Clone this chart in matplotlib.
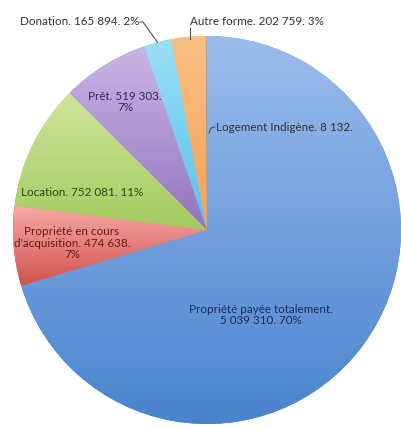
import numpy as np
import matplotlib.pyplot as plt

# data: logement types (count of households)
labels = ["Propriété payée totalement", "Propriété en cours d'acquisition",
          "Location", "Prêt", "Donation", "Autre forme", "Logement Indigène"]
values = [5039310, 474638, 752081, 519303, 165894, 202759, 8132]
label_texts = ["Propriété payée totalement.\n5 039 310. 70%",
               "Propriété en cours\nd'acquisition. 474 638.\n7%",
               "Location. 752 081. 11%",
               "Prêt. 519 303.\n7%",
               "Donation. 165 894. 2%",
               "Autre forme. 202 759. 3%",
               "Logement Indigène. 8 132."]

# gradient colours per slice (top, bottom)
grad = [((155, 188, 236), (74, 132, 206)),
        ((246, 168, 166), (210, 82, 76)),
        ((208, 230, 155), (163, 203, 95)),
        ((202, 182, 228), (148, 115, 193)),
        ((155, 222, 246), (88, 194, 234)),
        ((252, 192, 132), (245, 160, 86)),
        ((170, 170, 170), (140, 140, 140))]
text_colors = ["#1a2c58", "#6b1a1a", "#2b4514", "#3a2656", "#333333", "#333333", "#333333"]

W, H = 402, 428
cx, cy, R = 207, 230, 194

def px(x, y):
    return x, H - y

plt.rcParams['font.family'] = ['Lato', 'DejaVu Sans']
fig = plt.figure(figsize=(W / 100, H / 100), dpi=100)
ax = fig.add_axes([0, 0, 1, 1])

wedges, _ = ax.pie(values, center=px(cx, cy), radius=R, startangle=90,
                   counterclock=False, wedgeprops=dict(linewidth=0))
ax.set_xlim(0, W)
ax.set_ylim(0, H)
ax.set_aspect('equal')
ax.axis('off')

for w, (c0, c1) in zip(wedges, grad):
    w.set_facecolor(np.array(c1) / 255)
    ext = w.get_path().get_extents()
    t = np.linspace(0, 1, 64)[:, None]
    img = (np.array(c0)[None, :] * (1 - t) + np.array(c1)[None, :] * t) / 255
    im = ax.imshow(img[:, None, :], extent=(ext.x0, ext.x1, ext.y0, ext.y1),
                   origin='upper', aspect='auto', interpolation='bilinear', zorder=2)
    im.set_clip_path(w)

fs = 8.4
# inside labels
ax.text(*px(261, 315), label_texts[0], ha='center', va='center', fontsize=fs,
        color=text_colors[0], zorder=5, linespacing=1.1)
ax.text(*px(72, 243), label_texts[1], ha='center', va='center', fontsize=fs,
        color=text_colors[1], zorder=5, linespacing=1.1)
ax.text(*px(82, 192), label_texts[2], ha='center', va='center', fontsize=fs,
        color=text_colors[2], zorder=5)
ax.text(*px(125, 102), label_texts[3], ha='center', va='center', fontsize=fs,
        color=text_colors[3], zorder=5, linespacing=1.1)

# outside labels with leader lines
ax.text(*px(139, 21), label_texts[4], ha='right', va='center', fontsize=fs,
        color=text_colors[4], zorder=5)
ax.text(*px(190, 21), label_texts[5], ha='left', va='center', fontsize=fs,
        color=text_colors[5], zorder=5)
ax.text(*px(216, 127), label_texts[6], ha='left', va='center', fontsize=fs,
        color=text_colors[6], zorder=5)

angles = np.cumsum([0] + values) / sum(values) * 360
mids = 90 - (angles[:-1] + angles[1:]) / 2
def edge(i, f=1.0):
    a = np.deg2rad(mids[i])
    return cx + R * f * np.cos(a), cy - R * f * np.sin(a)

ex, ey = edge(4)
ax.plot(*zip(px(140, 22), px(143, 22), px(ex, ey)), color='#555555', lw=0.8, zorder=6)
ex, ey = edge(5)
ax.plot(*zip(px(190, 28), px(190, ey + 2)), color='#555555', lw=0.8, zorder=6)
ax.plot(*zip(px(209, 133), px(211, 128), px(215, 127)), color='#555555', lw=0.8, zorder=6)

fig.savefig("out.png", dpi=100, facecolor='white')
